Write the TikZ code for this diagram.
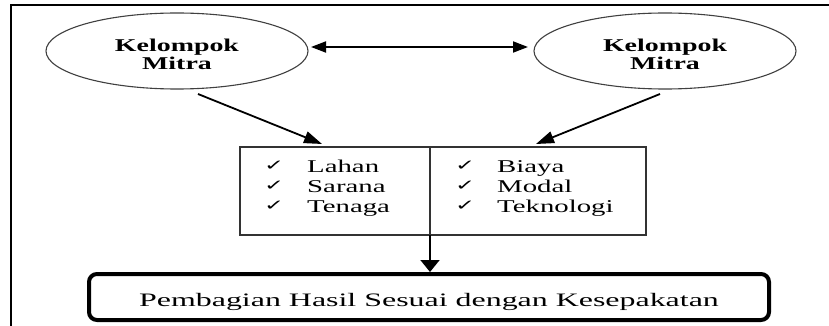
\documentclass[tikz,border=0pt]{standalone}
\usepackage{fontspec}
\usepackage{graphicx}
\setmainfont{Liberation Serif}
\newfontfamily\chkfont{DejaVu Sans}
\usetikzlibrary{shapes.geometric,arrows.meta}
\tikzset{
  frame/.style={draw=black, line width=1.6pt},
  mitra/.style={ellipse, draw=black!75, line width=1.1pt, minimum width=262pt,
    minimum height=76pt, inner sep=0pt},
  mtext/.style={anchor=base, inner sep=0pt, font=\bfseries\fontsize{18}{18}\selectfont},
  itembox/.style={draw=black!80, line width=1.1pt, minimum width=406pt,
    minimum height=88pt, inner sep=0pt},
  chkmark/.style={anchor=base west, inner sep=0pt, font=\chkfont\fontsize{15}{15}\selectfont},
  item/.style={anchor=base west, inner sep=0pt, font=\fontsize{18}{18}\selectfont},
  result/.style={draw=black, line width=4pt, rounded corners=8pt,
    minimum width=680pt, minimum height=46pt, inner sep=0pt},
  rtext/.style={anchor=base, inner sep=0pt, font=\fontsize{19}{19}\selectfont},
  arr/.style={line width=1.8pt, -{Triangle[length=18pt,width=12pt]}},
  dbl/.style={line width=1.8pt, {Triangle[length=15pt,width=11pt]}-{Triangle[length=15pt,width=11pt]}},
  down/.style={line width=1.8pt, -{Triangle[length=12pt,width=19pt]}},
}
\begin{document}
\begin{tikzpicture}[x=1pt,y=-1pt]
\clip (0,0) rectangle (829,326);
\fill[white] (0,0) rectangle (829,326);
% outer frame (runs past the right and bottom edges)
\draw[frame] (11,5) rectangle (860,360);

% partner groups
\node[mitra] (m1) at (177,51) {};
\node[mtext] (m1a) at (177,52) {\scalebox{1.55}[1]{Kelompok}};
\node[mtext] (m1b) at (177,70) {\scalebox{1.55}[1]{Mitra}};
\node[mitra] (m2) at (665,51) {};
\node[mtext] (m2a) at (665,52) {\scalebox{1.55}[1]{Kelompok}};
\node[mtext] (m2b) at (665,70) {\scalebox{1.55}[1]{Mitra}};

% contributions box with a dividing line
\node[itembox] (box) at (443,191) {};
\coordinate (split) at (430,235);
\draw[black!80, line width=1.1pt] (430,147) -- (split);

\node[chkmark] (c1) at (264,170) {\scalebox{1.6}[1]{✓}};
\node[chkmark] (c2) at (264,190) {\scalebox{1.6}[1]{✓}};
\node[chkmark] (c3) at (264,210) {\scalebox{1.6}[1]{✓}};
\node[chkmark] (c4) at (455,170) {\scalebox{1.6}[1]{✓}};
\node[chkmark] (c5) at (455,190) {\scalebox{1.6}[1]{✓}};
\node[chkmark] (c6) at (455,210) {\scalebox{1.6}[1]{✓}};

\node[item] (i1) at (307,172) {\scalebox{1.6}[1]{Lahan}};
\node[item] (i2) at (307,192) {\scalebox{1.6}[1]{Sarana}};
\node[item] (i3) at (307,212) {\scalebox{1.6}[1]{Tenaga}};
\node[item] (i4) at (497,172) {\scalebox{1.6}[1]{Biaya}};
\node[item] (i5) at (497,192) {\scalebox{1.6}[1]{Modal}};
\node[item] (i6) at (497,212) {\scalebox{1.6}[1]{Teknologi}};

% outcome
\node[result] (res) at (429,297) {};
\node[rtext] (rt) at (429,306) {\scalebox{1.68}[1]{Pembagian Hasil Sesuai dengan Kesepakatan}};

% connectors
\coordinate (d1) at (311,47);
\coordinate (d2) at (528,47);
\draw[dbl] (d1) -- (d2);

\coordinate (a1) at (198,94);
\coordinate (b1) at (322,144);
\draw[arr] (a1) -- (b1);
\coordinate (a2) at (660,94);
\coordinate (b2) at (536,144);
\draw[arr] (a2) -- (b2);

\draw[down] (split) -- (res.north -| split);
\end{tikzpicture}
\end{document}
